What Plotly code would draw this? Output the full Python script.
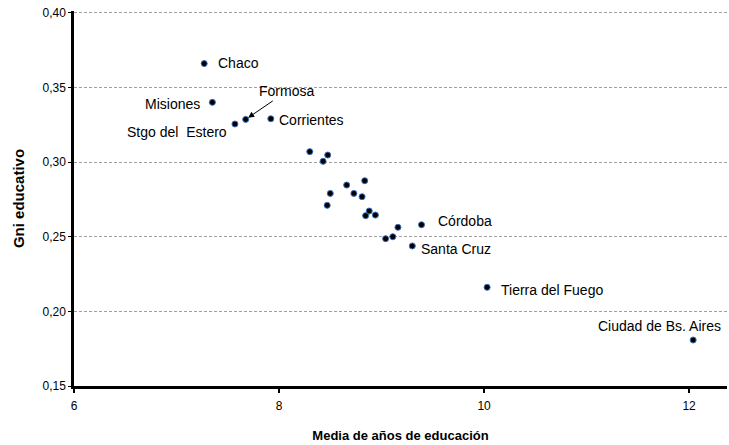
import plotly.graph_objects as go

# Data: mean years of education (x) vs educational Gini (y), Argentine provinces
provinces = [
    "Chaco", "Misiones", "Stgo del Estero", "Formosa", "Corrientes",
    "P6", "P7", "P8", "P9", "P10", "P11", "P12", "P13", "P14", "P15",
    "P16", "P17", "P18", "Córdoba", "P20", "P21", "Santa Cruz",
    "Tierra del Fuego", "Ciudad de Bs. Aires",
]
media_educ = [
    7.27, 7.35, 7.57, 7.675, 7.92,
    8.30, 8.475, 8.43, 8.66, 8.836, 8.50, 8.73, 8.81, 8.47, 8.88,
    8.845, 8.94, 9.16, 9.39, 9.04, 9.11, 9.30,
    10.03, 12.04,
]
gini_educ = [
    0.366, 0.340, 0.3255, 0.3286, 0.329,
    0.307, 0.3047, 0.3005, 0.2846, 0.2875, 0.279, 0.279, 0.2768, 0.271, 0.2672,
    0.2641, 0.2645, 0.2563, 0.258, 0.2487, 0.250, 0.2438,
    0.2161, 0.1808,
]
y_ticks = [0.15, 0.20, 0.25, 0.30, 0.35, 0.40]
y_tick_text = ["0,15", "0,20", "0,25", "0,30", "0,35", "0,40"]
x_ticks = [6, 8, 10, 12]

# label offsets (pixels) for the named points
labels = {
    "Chaco": dict(xanchor="left", xshift=12, yshift=1),
    "Misiones": dict(xanchor="right", xshift=-10, yshift=-2),
    "Stgo del Estero": dict(xanchor="right", xshift=-6, yshift=-8),
    "Corrientes": dict(xanchor="left", xshift=6, yshift=-1),
    "Córdoba": dict(xanchor="left", xshift=14, yshift=4),
    "Santa Cruz": dict(xanchor="left", xshift=7, yshift=-3),
    "Tierra del Fuego": dict(xanchor="left", xshift=12, yshift=-3),
    "Ciudad de Bs. Aires": dict(xanchor="right", xshift=30, yshift=14),
}
label_text = {"Stgo del Estero": "Stgo del\u00a0 Estero"}

FONT = "Liberation Sans, Arial, sans-serif"

fig = go.Figure()
fig.add_trace(go.Scatter(
    x=media_educ, y=gini_educ, mode="markers",
    marker=dict(size=6, color="black", line=dict(color="#3a6fb8", width=1)),
    hoverinfo="skip", showlegend=False,
))

annotations = []
for name, opts in labels.items():
    i = provinces.index(name)
    annotations.append(dict(
        x=media_educ[i], y=gini_educ[i], xref="x", yref="y",
        text=label_text.get(name, name), showarrow=False,
        yanchor="middle", font=dict(family=FONT, size=14, color="black"),
        **opts,
    ))
i = provinces.index("Formosa")
annotations.append(dict(
    x=media_educ[i], y=gini_educ[i], xref="x", yref="y",
    text="Formosa", showarrow=True, arrowhead=2, arrowsize=1.2, arrowwidth=1,
    arrowcolor="black", standoff=3, ax=41, ay=-28,
    font=dict(family=FONT, size=14, color="black"),
))

fig.update_layout(
    width=729, height=445,
    margin=dict(l=74, r=2, t=11, b=59, autoexpand=False),
    paper_bgcolor="white", plot_bgcolor="white",
    font=dict(family=FONT, size=12, color="black"),
    annotations=annotations,
    xaxis=dict(
        range=[6, 12.37], tickvals=x_ticks, ticktext=[str(v) for v in x_ticks],
        showgrid=False, zeroline=False, automargin=False,
        showline=True, linecolor="black", linewidth=2.5,
        ticks="outside", ticklen=4, tickwidth=1.5, tickcolor="black",
        ticklabelstandoff=3, ticklabeloverflow="allow",
        tickfont=dict(family=FONT, size=12, color="black"),
        title=dict(text="<b>Media de años de educación</b>", standoff=19,
                   font=dict(family=FONT, size=13, color="black")),
    ),
    yaxis=dict(
        range=[0.15, 0.4012], tickvals=y_ticks, ticktext=y_tick_text,
        showgrid=True, gridcolor="#a0a0a0", griddash="3px,2px", gridwidth=1,
        zeroline=False, automargin=False, ticklabeloverflow="allow",
        showline=True, linecolor="black", linewidth=2.5,
        ticks="outside", ticklen=3, tickwidth=1, tickcolor="black",
        tickfont=dict(family=FONT, size=12, color="black"),
        title=dict(text="<b>Gni educativo</b>", standoff=15,
                   font=dict(family=FONT, size=15, color="black")),
    ),
)

# remove the default 8px page margin so the figure fills the window exactly
fig.write_html("out.html", config={"displayModeBar": False},
               post_script="document.body.style.margin='0';")
